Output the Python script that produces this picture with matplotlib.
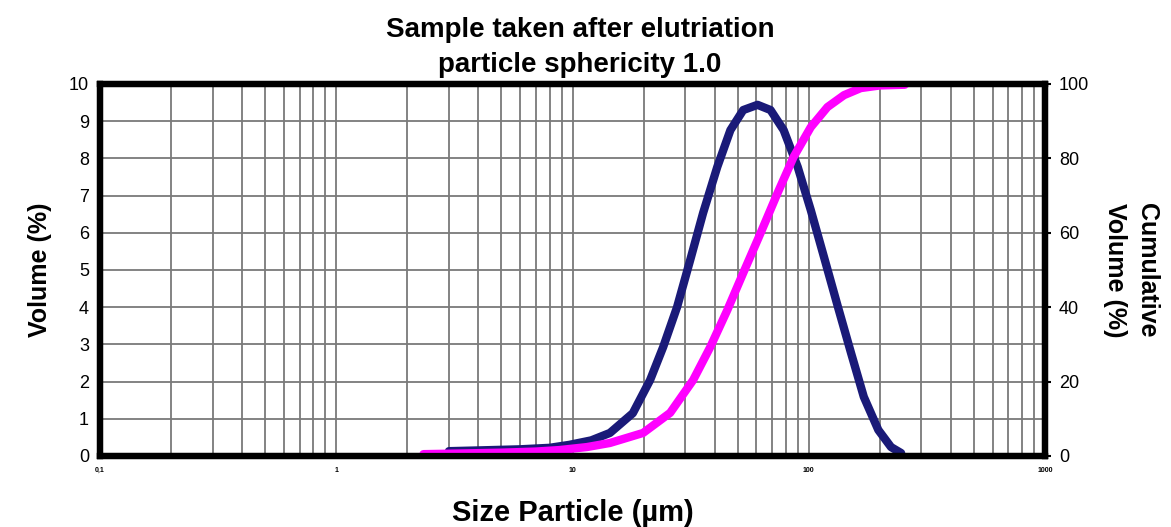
import numpy as np
import matplotlib.pyplot as plt
from matplotlib.ticker import FixedLocator, LogLocator, NullFormatter

# particle size (um) and volume (%)
size_vol = [3.0, 4.0, 6.0, 8.0, 9.7, 12.0, 14.4, 18.0, 21.3, 24.2, 27.7, 31.5, 35.7,
            41.0, 46.6, 52.8, 60.7, 68.9, 78.3, 89.8, 102, 116, 133, 151, 171,
            197, 223, 246]
volume = [0.13, 0.15, 0.18, 0.22, 0.3, 0.42, 0.62, 1.15, 2.04, 2.93, 4.0, 5.27, 6.53,
          7.77, 8.76, 9.3, 9.44, 9.3, 8.76, 7.77, 6.61, 5.35, 4.0, 2.77, 1.59,
          0.7, 0.24, 0.08]

# particle size (um) and cumulative volume (%)
size_cum = [2.34, 3.5, 5.0, 7.0, 8.8, 11.5, 14.4, 19.9, 25.9, 32.4, 38.3, 45.2, 52.8,
            62.5, 73.8, 86.3, 102, 120, 141, 166, 200, 255]
cumulative = [0.5, 0.7, 0.9, 1.2, 1.6, 2.4, 3.5, 6.2, 11.6, 20.4, 29.3, 39.2, 49.2,
              59.9, 70.7, 80.4, 88.4, 93.8, 97.0, 98.9, 99.6, 99.8]

xticks = [0.1, 1, 10, 100, 1000]
xticklabels = ['0,1', '1', '10', '100', '1000']

plt.rcParams['font.family'] = ['Liberation Sans', 'DejaVu Sans']

fig = plt.figure(figsize=(11.71, 5.27), dpi=100)
ax = fig.add_axes([100 / 1171, 1 - 456 / 527, 945 / 1171, 372 / 527])
ax2 = ax.twinx()

ax.set_xscale('log')
ax.set_xlim(0.1, 1000)
ax.set_ylim(0, 10)
ax2.set_ylim(0, 100)

ax.xaxis.set_major_locator(FixedLocator(xticks))
ax.set_xticklabels(xticklabels, fontsize=5, fontweight='bold')
ax.xaxis.set_minor_locator(LogLocator(base=10, subs=np.arange(2, 10)))
ax.xaxis.set_minor_formatter(NullFormatter())
ax.set_yticks(np.arange(0, 11, 1))
ax2.set_yticks(np.arange(0, 101, 20))

ax.grid(True, which='both', axis='x', color='#7a7a7a', linewidth=1.3)
ax.grid(True, which='major', axis='y', color='#7a7a7a', linewidth=1.3)
ax.set_axisbelow(True)

ax.plot(size_vol, volume, color='#1a1a78', linewidth=6, solid_capstyle='round',
        solid_joinstyle='round')
ax2.plot(size_cum, cumulative, color='#ff00ff', linewidth=6, solid_capstyle='round',
         solid_joinstyle='round')

for a in (ax, ax2):
    for s in a.spines.values():
        s.set_linewidth(4.5)
        s.set_color('black')
ax.tick_params(axis='x', which='both', length=0, pad=8)
ax.tick_params(axis='y', length=0, labelsize=13, pad=8)
ax2.tick_params(axis='y', length=4, width=1.5, labelsize=13, pad=6)

# two-line title, placed by baseline
fig.text(580 / 1171, 1 - 37 / 527, 'Sample taken after elutriation', ha='center',
         va='baseline', fontsize=20, fontweight='bold')
fig.text(580 / 1171, 1 - 72 / 527, 'particle sphericity 1.0', ha='center',
         va='baseline', fontsize=20, fontweight='bold')

ax.set_xlabel('Size Particle (\u00b5m)', fontsize=21, fontweight='bold', labelpad=18)
ax.set_ylabel('Volume (%)', fontsize=18, fontweight='bold', labelpad=12)
ax2.set_ylabel('Cumulative\nVolume (%)', fontsize=18, fontweight='bold',
               rotation=270, labelpad=50, linespacing=1.4)

fig.savefig('out.png', dpi=100)
